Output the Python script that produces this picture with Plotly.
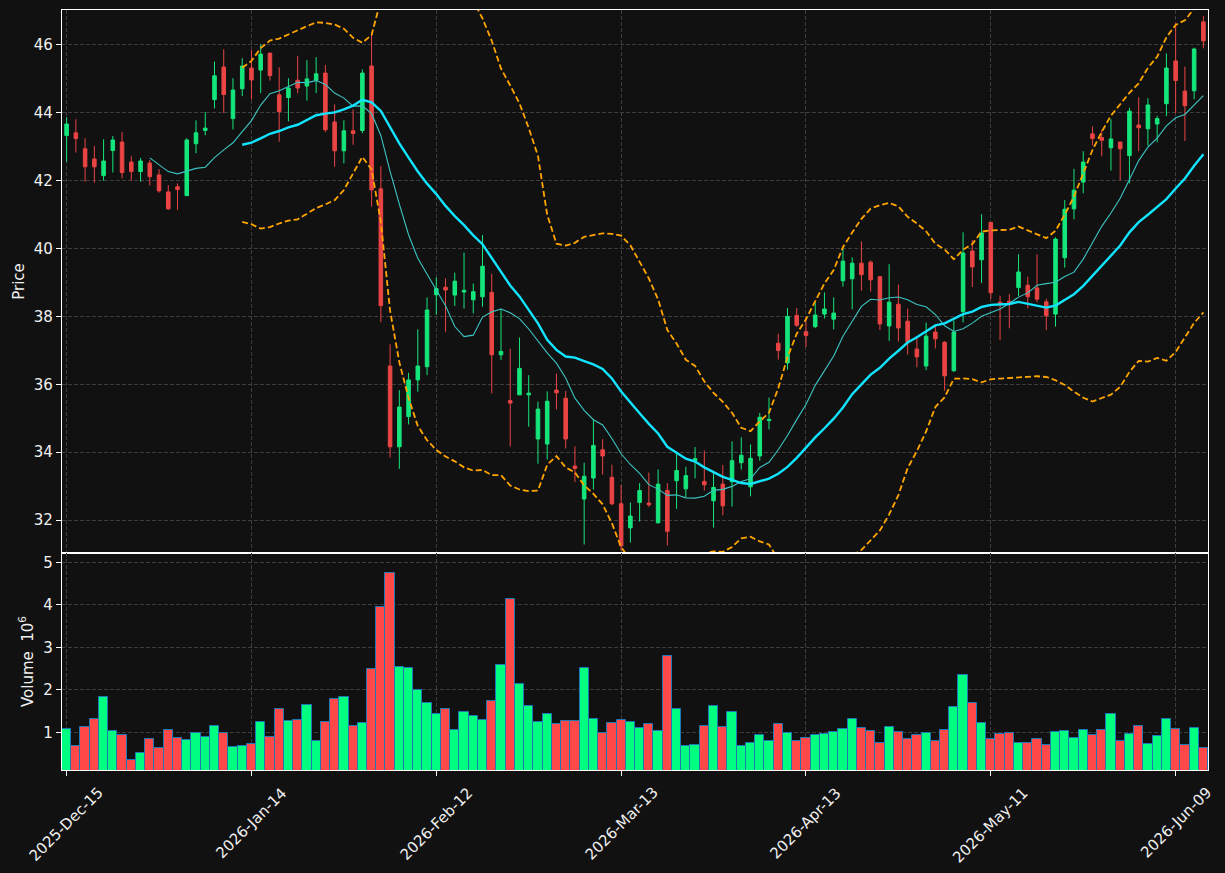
import pandas as pd
import plotly.graph_objects as go
from plotly.subplots import make_subplots

# ---------------- data ----------------
opens = [43.33, 43.41, 42.94, 42.64, 42.15, 42.89, 43.14, 42.55, 42.27, 42.52,
         42.17, 41.67, 41.82, 41.56, 43.09, 43.48, 44.39, 45.35, 43.83, 44.71,
         45.32, 45.26, 45.76, 44.53, 44.45, 44.96, 44.79, 44.96, 45.17, 43.73,
         42.88, 43.47, 43.48, 45.38, 41.76, 36.54, 34.16, 35.05, 36.13, 36.52,
         38.64, 38.86, 38.63, 38.72, 38.49, 38.58, 38.71, 36.87, 35.52, 35.69,
         35.69, 34.39, 34.24, 35.83, 35.59, 33.59, 32.62, 33.24, 34.07, 33.26,
         32.48, 31.77, 32.52, 32.50, 31.92, 32.87, 33.16, 32.92, 33.75, 33.14,
         32.57, 33.06, 33.13, 33.69, 32.98, 33.89, 34.93, 37.21, 36.63, 38.03,
         37.55, 37.70, 38.07, 37.92, 39.05, 39.11, 39.57, 39.60, 39.17, 37.72,
         38.36, 37.86, 37.04, 36.54, 37.54, 37.24, 36.40, 38.14, 39.93, 39.67,
         40.77, 38.42, 38.45, 38.85, 38.92, 38.84, 38.43, 38.07, 39.73, 41.17,
         41.96, 43.38, 43.27, 42.97, 43.14, 42.74, 43.64, 43.53, 43.67, 44.27,
         45.53, 44.64, 44.65, 46.68]
highs = [43.87, 43.81, 43.25, 43.02, 43.22, 43.32, 43.44, 42.72, 42.67, 42.61,
         42.34, 41.87, 41.92, 43.25, 43.78, 44.02, 45.51, 45.87, 45.02, 45.61,
         45.85, 46.02, 45.76, 45.34, 45.02, 45.68, 45.55, 45.64, 45.41, 44.25,
         43.78, 44.10, 45.28, 46.36, 42.43, 37.18, 35.83, 36.34, 37.62, 38.56,
         39.15, 39.12, 39.29, 39.88, 38.97, 40.40, 39.26, 38.23, 37.05, 37.38,
         36.27, 35.49, 35.79, 36.32, 35.81, 34.17, 33.69, 34.97, 34.38, 33.63,
         33.03, 32.52, 33.09, 33.40, 33.49, 33.09, 33.95, 33.57, 34.15, 34.05,
         33.45, 33.62, 34.32, 34.44, 34.23, 35.16, 35.61, 37.49, 38.25, 38.25,
         37.97, 38.41, 38.71, 38.56, 40.00, 39.74, 40.21, 39.65, 39.20, 39.54,
         38.94, 38.23, 37.38, 37.82, 37.74, 37.27, 37.88, 40.48, 40.25, 41.01,
         40.78, 38.61, 38.66, 39.83, 39.17, 39.83, 38.52, 40.33, 41.43, 42.35,
         42.87, 43.60, 43.50, 43.81, 43.14, 44.15, 44.46, 44.43, 43.91, 45.75,
         46.64, 45.36, 45.92, 46.85]
lows = [42.56, 42.83, 41.97, 41.94, 42.00, 42.24, 42.07, 42.00, 41.97, 41.86,
        41.65, 41.14, 41.14, 41.56, 42.81, 43.34, 44.13, 43.99, 43.51, 44.49,
        44.40, 44.58, 44.95, 43.15, 43.75, 44.58, 44.36, 44.58, 43.43, 42.41,
        42.51, 43.06, 43.40, 41.24, 37.83, 33.84, 33.51, 34.82, 35.78, 36.27,
        38.05, 37.55, 38.31, 38.23, 38.09, 38.29, 35.73, 36.72, 34.17, 35.69,
        34.75, 33.66, 33.78, 35.26, 34.11, 33.12, 31.28, 32.90, 33.34, 32.44,
        31.10, 31.34, 31.96, 32.39, 31.90, 31.25, 32.33, 32.67, 33.23, 32.87,
        31.78, 32.14, 32.40, 33.49, 32.70, 33.75, 34.67, 36.73, 36.43, 37.69,
        37.10, 37.66, 37.94, 37.62, 38.88, 38.21, 38.76, 38.73, 37.60, 37.28,
        37.26, 36.88, 36.50, 36.42, 37.06, 35.81, 36.37, 37.82, 38.87, 38.99,
        38.51, 37.30, 37.65, 38.60, 38.24, 38.42, 37.60, 37.70, 39.44, 40.86,
        41.63, 43.04, 42.72, 42.30, 42.01, 41.92, 42.87, 43.03, 43.13, 43.90,
        43.99, 43.17, 44.40, 45.90]
closes = [43.67, 43.24, 42.41, 42.41, 42.58, 43.20, 42.24, 42.27, 42.58, 42.12,
          41.70, 41.17, 41.74, 43.20, 43.41, 43.55, 45.09, 44.54, 44.67, 45.38,
          44.97, 45.73, 45.10, 44.04, 44.73, 44.73, 45.00, 45.15, 43.50, 42.88,
          43.47, 43.39, 45.17, 41.73, 38.32, 34.16, 35.33, 36.13, 36.54, 38.19,
          38.82, 38.78, 39.04, 38.77, 38.73, 39.48, 36.87, 36.97, 35.45, 36.47,
          35.74, 35.27, 35.50, 35.75, 34.39, 33.52, 33.29, 34.20, 33.89, 32.48,
          31.24, 32.12, 32.87, 32.45, 33.06, 31.67, 33.46, 33.31, 33.81, 33.04,
          32.96, 32.42, 33.75, 33.91, 33.82, 35.03, 34.97, 37.00, 38.00, 37.74,
          37.44, 38.04, 38.22, 38.10, 39.63, 39.57, 39.23, 39.08, 37.78, 38.42,
          37.66, 37.26, 36.81, 37.42, 37.34, 36.25, 37.54, 39.87, 39.46, 40.46,
          38.70, 38.37, 38.40, 39.31, 38.58, 38.51, 38.02, 40.28, 41.16, 41.72,
          42.55, 43.24, 43.19, 43.23, 42.94, 44.05, 43.56, 44.23, 43.83, 45.32,
          44.95, 44.21, 45.88, 46.12]
volumes_m = [1.07, 0.67, 1.12, 1.31, 1.82, 1.02, 0.93, 0.36, 0.51, 0.84,
             0.62, 1.05, 0.86, 0.81, 0.98, 0.88, 1.14, 0.98, 0.65, 0.67,
             0.72, 1.24, 0.88, 1.54, 1.26, 1.28, 1.64, 0.79, 1.24, 1.78,
             1.82, 1.16, 1.21, 2.48, 3.94, 4.74, 2.53, 2.51, 1.99, 1.68,
             1.42, 1.56, 1.05, 1.47, 1.38, 1.28, 1.73, 2.58, 4.13, 2.13,
             1.61, 1.24, 1.42, 1.19, 1.26, 1.26, 2.51, 1.31, 0.98, 1.21,
             1.28, 1.24, 1.09, 1.19, 1.02, 2.79, 1.56, 0.67, 0.69, 1.16,
             1.61, 1.12, 1.47, 0.67, 0.74, 0.93, 0.79, 1.19, 0.98, 0.79,
             0.86, 0.93, 0.95, 1.00, 1.07, 1.31, 1.09, 1.02, 0.74, 1.12,
             1.00, 0.84, 0.93, 0.98, 0.79, 1.05, 1.59, 2.34, 1.68, 1.21,
             0.84, 0.95, 0.98, 0.76, 0.76, 0.84, 0.69, 1.00, 1.02, 0.86,
             1.05, 0.93, 1.05, 1.42, 0.79, 0.95, 1.14, 0.72, 0.91, 1.31,
             1.07, 0.69, 1.09, 0.62]
tick_positions = [0, 20, 40, 60, 80, 100, 120]
tick_labels = ["2025-Dec-15", "2026-Jan-14", "2026-Feb-12", "2026-Mar-13",
               "2026-Apr-13", "2026-May-11", "2026-Jun-09"]

# ---------------- derived ----------------
idx = list(range(len(closes)))
cs = pd.Series(closes)
ma10 = cs.rolling(10).mean()
ma20 = cs.rolling(20).mean()
sd20 = cs.rolling(20).std(ddof=0)
bb_up = ma20 + 2 * sd20
bb_dn = ma20 - 2 * sd20

UP_C = "#14e67c"
DN_C = "#ea4444"
VUP_C = "#00ff80"
VDN_C = "#ff4848"
BG = "#111111"
GRID = "#3e3e3e"
FONT = dict(family="DejaVu Sans", size=15, color="#f0f0f0")

vol_colors = [VUP_C if c >= o else VDN_C for o, c in zip(opens, closes)]

fig = make_subplots(rows=2, cols=1, shared_xaxes=True, vertical_spacing=0,
                    row_heights=[543 / 760, 217 / 760])

fig.add_trace(go.Candlestick(
    x=idx, open=opens, high=highs, low=lows, close=closes,
    increasing=dict(line=dict(color=UP_C, width=1), fillcolor=UP_C),
    decreasing=dict(line=dict(color=DN_C, width=1), fillcolor=DN_C),
    whiskerwidth=0, showlegend=False), row=1, col=1)

fig.add_trace(go.Scatter(x=idx, y=ma10, mode="lines",
                         line=dict(color="#3cc4c4", width=1.1),
                         showlegend=False, hoverinfo="skip"), row=1, col=1)
fig.add_trace(go.Scatter(x=idx, y=ma20, mode="lines",
                         line=dict(color="#12e4ff", width=2.4),
                         showlegend=False, hoverinfo="skip"), row=1, col=1)
for band in (bb_up, bb_dn):
    fig.add_trace(go.Scatter(x=idx, y=band, mode="lines",
                             line=dict(color="#ffa500", width=1.8, dash="6px,3px"),
                             showlegend=False, hoverinfo="skip"), row=1, col=1)

fig.add_trace(go.Bar(x=idx, y=volumes_m, width=1.0,
                     marker=dict(color=vol_colors, line=dict(color="#1f77b4", width=1)),
                     showlegend=False), row=2, col=1)

axis_common = dict(showline=True, linecolor="white", linewidth=1.2, mirror=True,
                   showgrid=True, gridcolor=GRID, griddash="4px,2px", gridwidth=1,
                   zeroline=False, tickfont=FONT, tickcolor="white",
                   ticklen=5, tickwidth=1)

fig.update_xaxes(**axis_common, range=[-0.5, 123.5], tickmode="array",
                 tickvals=tick_positions, showticklabels=False,
                 rangeslider_visible=False)
fig.update_xaxes(ticks="", row=1, col=1)
fig.update_xaxes(ticks="outside", row=2, col=1)

fig.update_yaxes(**axis_common, ticks="outside")
fig.update_yaxes(range=[31.03, 47.03], tickvals=[32, 34, 36, 38, 40, 42, 44, 46],
                 title=dict(text="Price", font=FONT, standoff=5), row=1, col=1)
fig.update_yaxes(range=[0.113, 5.22], tickvals=[1, 2, 3, 4, 5],
                 title=dict(text="Volume  10<sup>6</sup>", font=FONT, standoff=6),
                 row=2, col=1)

# rotated date labels centred under each tick (matplotlib-style)
for pos, lab in zip(tick_positions, tick_labels):
    fig.add_annotation(x=pos, xref="x2", y=0, yref="paper", text=lab,
                       textangle=-45, showarrow=False, xanchor="center",
                       yanchor="top", yshift=-11, font=FONT)

fig.update_layout(width=1225, height=873, paper_bgcolor=BG, plot_bgcolor=BG,
                  margin=dict(l=62, r=17, t=10, b=103), boxgap=0.45,
                  bargap=0, font=FONT, showlegend=False)

fig.write_html("out.html")
